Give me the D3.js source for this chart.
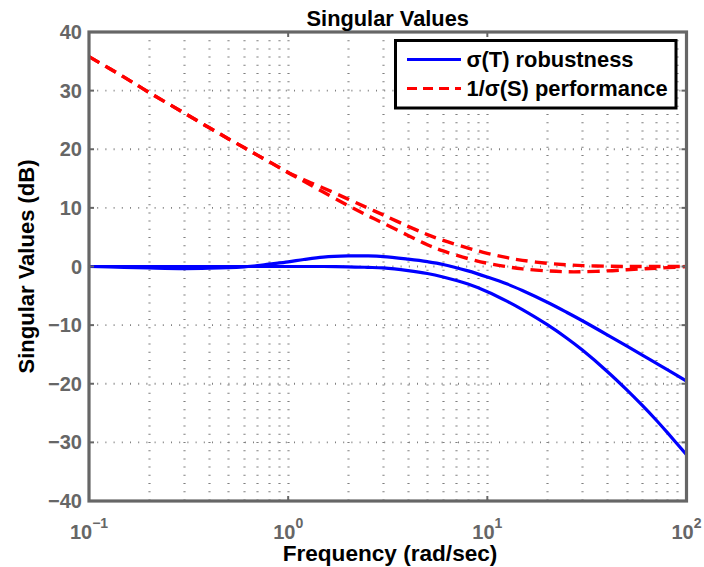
<!DOCTYPE html>
<html>
<head>
<meta charset="utf-8">
<script src="https://cdn.jsdelivr.net/npm/d3@7"></script>
<style>
  html, body { margin: 0; padding: 0; background: #fff; }
  svg { display: block; }
  text { font-family: "Liberation Sans", Arial, Helvetica, sans-serif; font-weight: bold; }
</style>
</head>
<body>
<svg id="chart" width="704" height="567"></svg>
<script>
// ---- data ----
const freq   = [0.1, 0.15, 0.2, 0.3, 0.4, 0.5, 0.6, 0.7, 0.8, 1, 1.2, 1.5, 2, 2.5, 3, 4, 5, 6, 8, 10, 12.6, 15, 20, 25, 30, 40, 50, 60, 70, 80, 100];
const sigT1  = [0, -0.15, -0.25, -0.35, -0.3, -0.2, -0.05, 0.15, 0.4, 0.8, 1.2, 1.6, 1.8, 1.8, 1.7, 1.25, 0.82, 0.35, -0.75, -1.8, -3.0, -4.1, -6.1, -7.8, -9.25, -11.65, -13.55, -15.1, -16.45, -17.6, -19.55];
const sigT2  = [0, 0, 0, 0, 0, 0, 0, 0, 0, 0, 0, 0, -0.05, -0.15, -0.25, -0.7, -1.2, -1.8, -3.0, -4.3, -5.96, -7.36, -9.93, -12.2, -14.26, -17.9, -21.0, -23.7, -26.1, -28.3, -32.1];
const invS1  = [35.8, 32.3, 29.7, 26.2, 23.7, 21.8, 20.3, 19.0, 17.9, 16.05, 14.8, 13.4, 11.5, 10.0, 8.8, 6.85, 5.45, 4.45, 3.15, 2.25, 1.5, 1.05, 0.55, 0.3, 0.15, 0.05, 0, 0, 0, 0, 0];
const invS2  = [35.8, 32.3, 29.7, 26.2, 23.7, 21.8, 20.3, 19.0, 17.9, 16.0, 14.55, 12.7, 10.4, 8.7, 7.4, 5.3, 3.7, 2.65, 1.35, 0.55, -0.05, -0.4, -0.75, -0.9, -0.9, -0.75, -0.55, -0.4, -0.3, -0.2, 0];
const xTickExp = [-1, 0, 1, 2];
const yTicks = [-40, -30, -20, -10, 0, 10, 20, 30, 40];
const legendLabels = ["\u03C3(T) robustness", "1/\u03C3(S) performance"];
const titleText = "Singular Values";
const xLabelText = "Frequency (rad/sec)";
const yLabelText = "Singular Values (dB)";

// ---- layout ----
const L = 89, R = 686.5, T = 32, B = 501;
const svg = d3.select("#chart");
const x = d3.scaleLog().domain([0.1, 100]).range([L, R]);
const y = d3.scaleLinear().domain([-40, 40]).range([B, T]);
const axisCol = "#666666";
const gridCol = "#808080";

// grid
const g = svg.append("g");
const vLines = [];
for (let e = -1; e < 2; e++) {
  for (let k = 1; k <= 9; k++) {
    const v = k * Math.pow(10, e);
    if (v > 0.1 + 1e-9) vLines.push(v);
  }
}
g.selectAll("line.v").data(vLines).enter().append("line")
  .attr("x1", d => Math.round(x(d)) + 0.5).attr("x2", d => Math.round(x(d)) + 0.5)
  .attr("y1", T).attr("y2", B)
  .attr("stroke", gridCol).attr("stroke-width", 2.2)
  .attr("stroke-dasharray", "1,7.2");
g.selectAll("line.h").data(yTicks.filter(d => d > -40 && d < 40)).enter().append("line")
  .attr("x1", L).attr("x2", R)
  .attr("y1", d => y(d)).attr("y2", d => y(d))
  .attr("stroke", gridCol).attr("stroke-width", 1.8)
  .attr("stroke-dasharray", "1,7.2");

// clip
svg.append("clipPath").attr("id", "clip").append("rect")
  .attr("x", L).attr("y", T).attr("width", R - L).attr("height", B - T);

const line = d3.line().x(d => x(d[0])).y(d => y(d[1])).curve(d3.curveCatmullRom.alpha(0.5));
const mk = arr => freq.map((f, i) => [f, arr[i]]);
const plot = svg.append("g").attr("clip-path", "url(#clip)");
[sigT1, sigT2].forEach(s => {
  plot.append("path").attr("d", line(mk(s))).attr("fill", "none")
    .attr("stroke", "#0000ff").attr("stroke-width", 3.2).attr("stroke-linejoin", "round");
});
[invS1, invS2].forEach(s => {
  plot.append("path").attr("d", line(mk(s))).attr("fill", "none")
    .attr("stroke", "#ff0000").attr("stroke-width", 3.4)
    .attr("stroke-dasharray", "12,7");
});

// ticks (inward) on all sides
const tk = svg.append("g").attr("stroke", axisCol).attr("stroke-width", 2);
xTickExp.forEach(e => {
  const px = x(Math.pow(10, e));
  tk.append("line").attr("x1", px).attr("x2", px).attr("y1", B).attr("y2", B - 5);
  tk.append("line").attr("x1", px).attr("x2", px).attr("y1", T).attr("y2", T + 5);
});
yTicks.forEach(v => {
  tk.append("line").attr("x1", L).attr("x2", L + 5).attr("y1", y(v)).attr("y2", y(v));
  tk.append("line").attr("x1", R).attr("x2", R - 5).attr("y1", y(v)).attr("y2", y(v));
});

// frame
svg.append("rect").attr("x", L).attr("y", T).attr("width", R - L).attr("height", B - T)
  .attr("fill", "none").attr("stroke", axisCol).attr("stroke-width", 3.2);

// y tick labels
svg.selectAll("text.yt").data(yTicks).enter().append("text")
  .attr("x", 82).attr("y", d => y(d) + 7)
  .attr("text-anchor", "end").attr("fill", axisCol).attr("font-size", 20)
  .text(d => d < 0 ? "\u2212" + Math.abs(d) : String(d));

// x tick labels
xTickExp.forEach(e => {
  const t = svg.append("text").attr("x", x(Math.pow(10, e))).attr("y", 538.5)
    .attr("text-anchor", "middle").attr("fill", axisCol).attr("font-size", 20);
  t.append("tspan").text("10");
  t.append("tspan").attr("dy", -11).attr("font-size", 14)
    .text(e < 0 ? "\u2212" + Math.abs(e) : String(e));
});

// title & labels
svg.append("text").attr("x", (L + R) / 2).attr("y", 26).attr("text-anchor", "middle")
  .attr("font-size", 21.8).attr("fill", "#000").text(titleText);
svg.append("text").attr("x", 390).attr("y", 561).attr("text-anchor", "middle")
  .attr("font-size", 22.6).attr("fill", "#000").text(xLabelText);
svg.append("text").attr("transform", `translate(33.5,${(T + B) / 2}) rotate(-90)`)
  .attr("text-anchor", "middle").attr("font-size", 22).attr("fill", "#000").text(yLabelText);

// legend
const lg = svg.append("g");
lg.append("rect").attr("x", 395.5).attr("y", 40.5).attr("width", 280.5).attr("height", 67.5)
  .attr("fill", "#fff").attr("stroke", "#000").attr("stroke-width", 3);
const legendStyles = [
  { col: "#0000ff", dash: null, ly: 59.5, ty: 66.5 },
  { col: "#ff0000", dash: "10,6", ly: 88.5, ty: 95.5 }
];
legendLabels.forEach((lab, i) => {
  const st = legendStyles[i];
  const ln = lg.append("line").attr("x1", 407).attr("x2", 461).attr("y1", st.ly).attr("y2", st.ly)
    .attr("stroke", st.col).attr("stroke-width", 3.2);
  if (st.dash) ln.attr("stroke-dasharray", st.dash);
  lg.append("text").attr("x", 466.5).attr("y", st.ty).attr("font-size", 21.9)
    .attr("fill", "#000").text(lab);
});
</script>
</body>
</html>
